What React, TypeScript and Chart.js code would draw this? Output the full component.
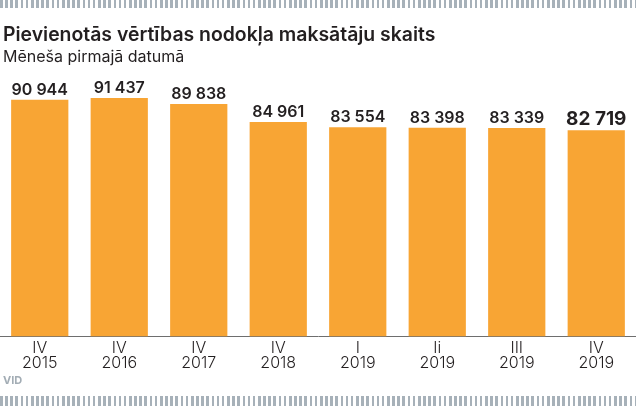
import React, { useEffect, useRef } from "react";
import { Chart, registerables } from "chart.js";

Chart.register(...registerables);

const quarters = ["IV", "IV", "IV", "IV", "I", "Ii", "III", "IV"];
const years = ["2015", "2016", "2017", "2018", "2019", "2019", "2019", "2019"];
const payers = [90944, 91437, 89838, 84961, 83554, 83398, 83339, 82719];
const valueLabels = ["90 944", "91 437", "89 838", "84 961", "83 554", "83 398", "83 339", "82 719"];

const FONT = "Inter, 'Open Sans', sans-serif";
const BAR = "#F8A534";
const INK = "#231F20";
const STRIPE = "repeating-linear-gradient(to right, #A7B1B9 0px, #A7B1B9 2.6px, transparent 2.6px, transparent 5.16px)";

const labelPlugin = {
  id: "valueLabels",
  afterDatasetsDraw(chart: any) {
    const ctx = chart.ctx;
    const meta = chart.getDatasetMeta(0);
    ctx.save();
    ctx.fillStyle = INK;
    ctx.textAlign = "center";
    ctx.textBaseline = "alphabetic";
    meta.data.forEach((el: any, i: number) => {
      const last = i === meta.data.length - 1;
      ctx.font = last ? `700 19px ${FONT}` : `600 16px ${FONT}`;
      ctx.fillText(valueLabels[i], el.x, el.y - 5);
    });
    ctx.restore();
  },
};

export default function App() {
  const ref = useRef<HTMLCanvasElement>(null);
  useEffect(() => {
    if (!ref.current) return;
    const chart = new Chart(ref.current, {
      type: "bar",
      data: {
        labels: quarters.map((q, i) => [q, years[i]]),
        datasets: [
          {
            data: payers,
            backgroundColor: BAR,
            borderWidth: 0,
            categoryPercentage: 1,
            barPercentage: 0.72,
          },
        ],
      },
      options: {
        animation: false,
        responsive: false,
        maintainAspectRatio: false,
        layout: { padding: { top: 80, left: 0, right: 0, bottom: 0 } },
        plugins: {
          legend: { display: false },
          tooltip: { enabled: false },
          title: { display: false },
        },
        scales: {
          x: {
            offset: true,
            grid: { display: false, drawTicks: false },
            border: { display: true, color: "#6E6E6E", width: 1 },
            ticks: {
              color: INK,
              font: { family: FONT, size: 16, weight: "300", lineHeight: 0.9 },
              padding: 5,
              maxRotation: 0,
              autoSkip: false,
            },
          },
          y: {
            display: false,
            min: 27100,
            max: 96310,
          },
        },
      },
      plugins: [labelPlugin],
    });
    return () => chart.destroy();
  }, []);

  return (
    <div style={{ position: "absolute", left: 0, top: 0, width: 636, height: 407, background: "#fff", overflow: "hidden" }}>
      <div style={{ position: "absolute", left: 0, top: 0, width: 636, height: 8, background: STRIPE }} />
      <div style={{ position: "absolute", left: 0, top: 396, width: 636, height: 10, background: STRIPE }} />
      <canvas ref={ref} width={636} height={375} style={{ position: "absolute", left: 0, top: 0 }} />
      <div style={{ position: "absolute", left: 3, top: 23, fontFamily: FONT, fontWeight: 600, fontSize: 19.4, color: INK, whiteSpace: "nowrap", lineHeight: "23px" }}>
        Pievienotās vērtības nodokļa maksātāju skaits
      </div>
      <div style={{ position: "absolute", left: 3, top: 46, fontFamily: FONT, fontWeight: 400, fontSize: 16, color: INK, whiteSpace: "nowrap", lineHeight: "20px" }}>
        Mēneša pirmajā datumā
      </div>
      <div style={{ position: "absolute", left: 3, top: 373, fontFamily: FONT, fontWeight: 700, fontSize: 11, color: "#A3ADB5", whiteSpace: "nowrap", lineHeight: "14px" }}>
        VID
      </div>
    </div>
  );
}
